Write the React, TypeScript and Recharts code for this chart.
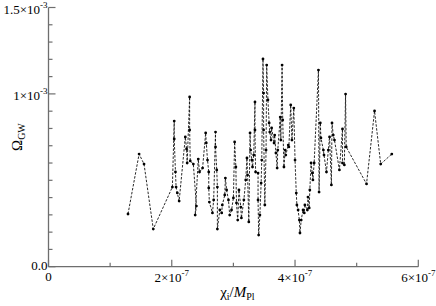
import React from 'react';
import { LineChart, Line, XAxis, YAxis } from 'recharts';

// chi_i / M_Pl in units of 1e-7
const chiValues = [
  1.29, 1.47, 1.55, 1.70, 2.01, 2.04, 2.04, 2.06, 2.07, 2.09, 2.12, 2.22, 2.24, 2.25, 2.29, 2.29, 2.30, 2.35, 2.40, 2.38,
  2.43, 2.45, 2.50, 2.55, 2.56, 2.58, 2.60, 2.60, 2.61, 2.66, 2.68, 2.71, 2.71, 2.73, 2.74, 2.74, 2.78, 2.81, 2.82, 2.86,
  2.87, 2.89, 2.92, 2.94, 2.97, 3.00, 3.02, 3.04, 3.05, 3.07, 3.09, 3.12, 3.13, 3.17, 3.20, 3.22, 3.23, 3.25, 3.27, 3.28,
  3.30, 3.31, 3.33, 3.35, 3.35, 3.36, 3.40, 3.40, 3.41, 3.43, 3.45, 3.46, 3.48, 3.49, 3.49, 3.51, 3.53, 3.54, 3.56, 3.58,
  3.59, 3.61, 3.62, 3.66, 3.67, 3.69, 3.71, 3.72, 3.76, 3.77, 3.79, 3.80, 3.82, 3.84, 3.85, 3.89, 3.90, 3.93, 3.95, 3.98,
  4.00, 4.02, 4.03, 4.05, 4.07, 4.08, 4.10, 4.13, 4.15, 4.16, 4.20, 4.21, 4.23, 4.24, 4.26, 4.28, 4.29, 4.31, 4.38, 4.39,
  4.41, 4.42, 4.46, 4.47, 4.51, 4.54, 4.56, 4.59, 4.60, 4.62, 4.64, 4.72, 4.77, 4.77, 4.80, 4.82, 4.83, 5.16, 5.29, 5.39,
  5.57,
];

// Omega_GW in units of 1e-4
const omegaValues = [
  3.05, 6.52, 5.94, 2.18, 4.61, 8.43, 7.39, 5.48, 4.61, 4.27, 3.80, 7.51, 6.81, 6.00, 9.82, 7.91, 6.12, 5.94, 3.51, 2.99,
  6.23, 5.48, 5.71, 7.74, 7.16, 6.17, 5.48, 4.56, 3.74, 3.11, 3.86, 7.79, 6.93, 5.60, 4.61, 2.18, 3.28, 3.11, 3.57, 4.15,
  5.13, 4.44, 3.86, 2.99, 3.28, 3.98, 7.22, 5.77, 3.69, 2.70, 4.44, 3.45, 2.82, 3.86, 5.02, 6.29, 5.31, 2.59, 7.74, 6.75,
  6.17, 5.77, 6.46, 9.53, 7.91, 5.48, 5.42, 3.86, 1.83, 2.99, 4.84, 6.17, 12.02, 10.05, 7.91, 3.57, 6.75, 11.67, 9.65, 8.32,
  7.79, 7.33, 8.03, 7.16, 7.62, 6.58, 5.71, 6.75, 8.66, 7.33, 11.67, 8.49, 5.77, 6.75, 6.46, 7.04, 6.93, 9.36, 7.33, 9.18,
  6.17, 4.26, 3.57, 3.28, 2.70, 1.95, 2.70, 3.28, 3.11, 3.57, 3.28, 4.03, 3.40, 4.44, 6.00, 5.42, 5.02, 6.00, 11.38, 4.32,
  8.32, 7.45, 6.75, 6.46, 5.48, 6.75, 7.51, 4.73, 8.32, 7.62, 7.33, 5.60, 7.97, 6.00, 5.89, 9.99, 6.93, 4.79, 9.01, 5.94,
  6.52,
];

const chiUnit = 1e-7;
const omegaUnit = 1e-4;

const xTicks = [0, 1e-7, 2e-7, 3e-7, 4e-7, 5e-7, 6e-7];
const xTickLabels: Record<string, [string, string]> = {
  '0': ['0', ''],
  '2e-7': ['2×10', '-7'],
  '4e-7': ['4×10', '-7'],
  '6e-7': ['6×10', '-7'],
};
const yTicks = [0, 1e-4, 2e-4, 3e-4, 4e-4, 5e-4, 6e-4, 7e-4, 8e-4, 9e-4, 1e-3, 1.1e-3, 1.2e-3, 1.3e-3, 1.4e-3, 1.5e-3];
const yTickLabels: Record<string, [string, string]> = {
  '0': ['0.0', ''],
  '5e-4': ['5×10', '-4'],
  '0.001': ['1×10', '-3'],
  '0.0015': ['1.5×10', '-3'],
};

const data = chiValues.map((c, i) => ({ chi: c * chiUnit, omega: omegaValues[i] * omegaUnit }));

const FONT = 'Liberation Serif';
const AXIS = '#6e6e6e';

const keyOf = (v: number) => String(parseFloat(v.toPrecision(6)));

const isMajorX = (v: number) => xTickLabels[keyOf(v)] !== undefined;
const isMajorY = (v: number) => yTickLabels[keyOf(v)] !== undefined;

const BottomTick = (props: any) => {
  const { x, y, payload } = props;
  const major = isMajorX(payload.value);
  const lab = xTickLabels[keyOf(payload.value)];
  return (
    <g>
      <line x1={x} x2={x} y1={y} y2={y - (major ? 7 : 4)} stroke={AXIS} strokeWidth={1.2} />
      {lab && (
        <text x={x} y={y + (lab[1] ? 15 : 14.5)} textAnchor="middle" fontFamily={FONT} fontSize={13} fill="#000">
          {lab[0]}
          {lab[1] && <tspan dy={-6} fontSize={9}>{lab[1]}</tspan>}
        </text>
      )}
    </g>
  );
};

const TopTick = (props: any) => {
  const { x, y, payload } = props;
  const major = isMajorX(payload.value);
  return <line x1={x} x2={x} y1={y} y2={y + (major ? 7 : 4)} stroke={AXIS} strokeWidth={1.2} />;
};

const LeftTick = (props: any) => {
  const { x, y, payload } = props;
  const major = isMajorY(payload.value);
  const lab = yTickLabels[keyOf(payload.value)];
  return (
    <g>
      <line x1={x} x2={x + (major ? 7 : 4)} y1={y} y2={y} stroke={AXIS} strokeWidth={1.2} />
      {lab && (
        <text x={x - 1} y={y + (lab[1] ? 6.5 : 3)} textAnchor="end" fontFamily={FONT} fontSize={13} fill="#000">
          {lab[0]}
          {lab[1] && <tspan dy={-6} fontSize={9}>{lab[1]}</tspan>}
        </text>
      )}
    </g>
  );
};

const RightTick = (props: any) => {
  const { x, y, payload } = props;
  const major = isMajorY(payload.value);
  return <line x1={x} x2={x - (major ? 7 : 4)} y1={y} y2={y} stroke={AXIS} strokeWidth={1.2} />;
};

const XTitle = (props: any) => {
  const vb = props.viewBox || { x: 0, y: 0, width: 0, height: 0 };
  const cx = vb.x + vb.width / 2 + 4;
  return (
    <text x={cx} y={297} textAnchor="middle" fontFamily={FONT} fontSize={15} fill="#000">
      χ<tspan fontSize={10} dy={3}>i</tspan>
      <tspan dy={-3}>/</tspan>
      <tspan fontStyle="italic">M</tspan>
      <tspan fontSize={10} dy={3}>Pl</tspan>
    </text>
  );
};

const YTitle = (props: any) => {
  const vb = props.viewBox || { x: 0, y: 0, width: 0, height: 0 };
  const cy = vb.y + vb.height / 2;
  const cx = 22;
  return (
    <text x={cx} y={cy} transform={`rotate(-90 ${cx} ${cy})`} textAnchor="middle" fontFamily={FONT} fontSize={15} fill="#000">
      Ω<tspan fontSize={10} dy={3}>GW</tspan>
    </text>
  );
};

export default function App() {
  return (
    <div style={{ position: 'absolute', left: 0, top: 0 }}>
      <LineChart
        width={436}
        height={306}
        data={data}
        margin={{ top: 7.5, right: 17.7, bottom: 0, left: 0 }}
      >
        <XAxis
          dataKey="chi"
          type="number"
          domain={[0, 6e-7]}
          ticks={xTicks}
          interval={0}
          allowDataOverflow
          height={39.3}
          tickSize={0}
          tickMargin={0}
          tickLine={false}
          axisLine={{ stroke: AXIS, strokeWidth: 1.3 }}
          tick={<BottomTick />}
          label={<XTitle />}
        />
        <XAxis
          xAxisId="top"
          orientation="top"
          type="number"
          domain={[0, 6e-7]}
          ticks={xTicks}
          interval={0}
          allowDataOverflow
          height={0}
          tickSize={0}
          tickMargin={0}
          tickLine={false}
          axisLine={{ stroke: AXIS, strokeWidth: 1.3 }}
          tick={<TopTick />}
        />
        <YAxis
          type="number"
          domain={[0, 1.5e-3]}
          ticks={yTicks}
          interval={0}
          allowDataOverflow
          width={48.5}
          tickSize={0}
          tickMargin={0}
          tickLine={false}
          axisLine={{ stroke: AXIS, strokeWidth: 1.3 }}
          tick={<LeftTick />}
          label={<YTitle />}
        />
        <YAxis
          yAxisId="right"
          orientation="right"
          type="number"
          domain={[0, 1.5e-3]}
          ticks={yTicks}
          interval={0}
          allowDataOverflow
          width={0}
          tickSize={0}
          tickMargin={0}
          tickLine={false}
          axisLine={{ stroke: AXIS, strokeWidth: 1.3 }}
          tick={<RightTick />}
        />
        <Line
          dataKey="omega"
          type="linear"
          stroke="#111"
          strokeWidth={0.9}
          strokeDasharray="2.5 1.5"
          dot={{ r: 1.4, fill: '#000', stroke: 'none' }}
          isAnimationActive={false}
        />
      </LineChart>
    </div>
  );
}
